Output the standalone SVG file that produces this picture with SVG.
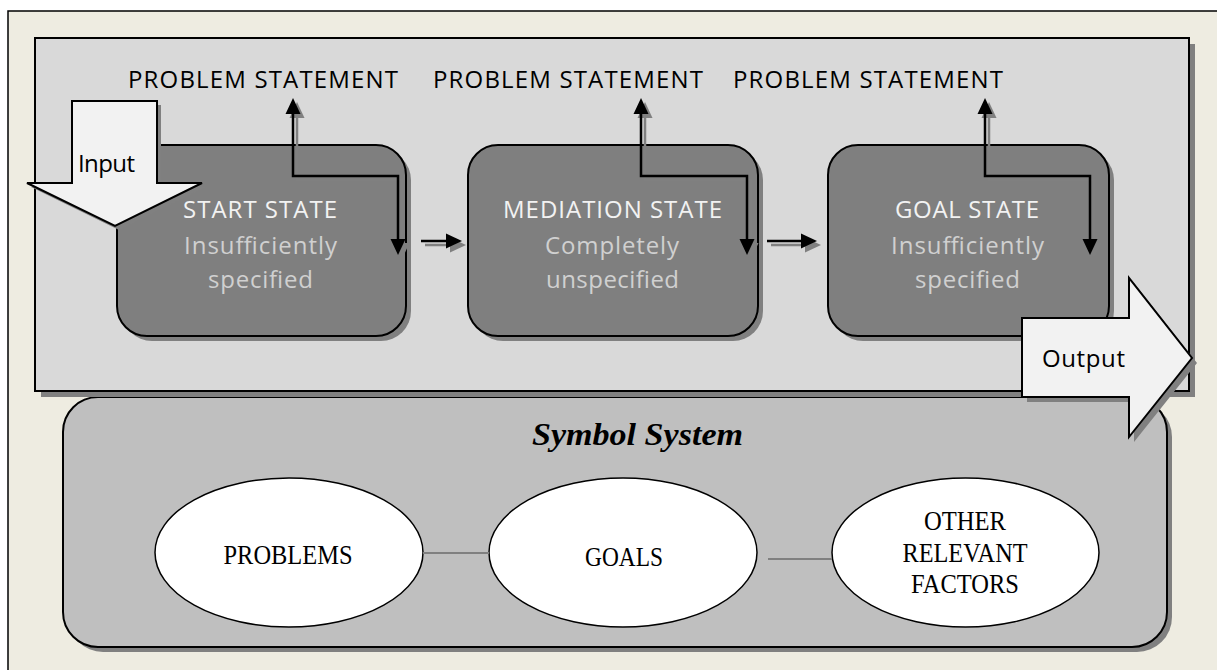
<svg xmlns="http://www.w3.org/2000/svg" width="1217" height="670" viewBox="0 0 1217 670">
  <style>
    .frame { fill: #EEECE1; stroke: #000; stroke-width: 1.5; }
    .panel { fill: #D9D9D9; stroke: #000; stroke-width: 2; }
    .state { fill: #7F7F7F; stroke: #000; stroke-width: 2; }
    .symbols { fill: #BFBFBF; stroke: #000; stroke-width: 2; }
    .shadow { fill: #808080; stroke: none; }
    .bigarrow { fill: #F2F2F2; stroke: #000; stroke-width: 2; stroke-linejoin: miter; }
    .oval { fill: #FFF; stroke: #000; stroke-width: 1.5; }
    .link { fill: none; stroke: #000; stroke-width: 2.5; }
    .link-shadow { fill: none; stroke: #808080; stroke-width: 2.5; }
    .tie { stroke: #808080; stroke-width: 2; }
    .sans { font-family: "Open Sans", "Liberation Sans", sans-serif; font-size: 24px; }
    .label { fill: #000; }
    .title { fill: #F2F2F2; }
    .sub { fill: #D0D0D0; }
    .serif { font-family: "Liberation Serif", "DejaVu Serif", serif; font-size: 27px; fill: #000; text-anchor: middle; }
    .heading { font-family: "Liberation Serif", "DejaVu Serif", serif; font-size: 32px; font-weight: bold; font-style: italic; fill: #000; }
  </style>
  <defs>
    <marker id="head" markerUnits="userSpaceOnUse" markerWidth="16" markerHeight="16" viewBox="0 0 16 16" refX="12" refY="8" orient="auto-start-reverse">
      <path d="M0,0.5 L16,8 L0,15.5 z" fill="#000"/>
    </marker>
    <marker id="head-shadow" markerUnits="userSpaceOnUse" markerWidth="16" markerHeight="16" viewBox="0 0 16 16" refX="12" refY="8" orient="auto-start-reverse">
      <path d="M0,0.5 L16,8 L0,15.5 z" fill="#808080"/>
    </marker>
  </defs>

  <!-- page background -->
  <rect class="frame" x="8" y="11" width="1220" height="670"/>

  <!-- symbol system container (sits behind the process panel) -->
  <g id="symbol-system">
    <rect class="shadow" x="68" y="402" width="1104" height="250" rx="35"/>
    <rect class="symbols" x="63" y="397" width="1104" height="250" rx="35"/>
  </g>

  <!-- process panel -->
  <g id="process-panel">
    <rect class="shadow" x="41" y="44" width="1154" height="353"/>
    <rect class="panel" x="35" y="38" width="1154" height="353"/>
  </g>

  <text class="heading" x="532" y="445" textLength="211" lengthAdjust="spacingAndGlyphs">Symbol System</text>

  <!-- problem statement labels -->
  <g id="statement-start">
    <text class="sans label" x="128" y="88" textLength="270">PROBLEM STATEMENT</text>
  </g>
  <g id="statement-mediation">
    <text class="sans label" x="433" y="88" textLength="270">PROBLEM STATEMENT</text>
  </g>
  <g id="statement-goal">
    <text class="sans label" x="733" y="88" textLength="270">PROBLEM STATEMENT</text>
  </g>

  <!-- state nodes -->
  <g id="start-state">
    <rect class="shadow" x="122" y="150" width="289" height="191" rx="30"/>
    <rect class="state" x="117" y="145" width="289" height="191" rx="30"/>
    <text class="sans title" x="183" y="218" textLength="154">START STATE</text>
    <text class="sans sub" x="184" y="254" textLength="153">Insufficiently</text>
    <text class="sans sub" x="208" y="288" textLength="105">specified</text>
  </g>
  <g id="mediation-state">
    <rect class="shadow" x="473" y="150" width="290" height="191" rx="30"/>
    <rect class="state" x="468" y="145" width="290" height="191" rx="30"/>
    <text class="sans title" x="503" y="218" textLength="219">MEDIATION STATE</text>
    <text class="sans sub" x="545" y="254" textLength="134">Completely</text>
    <text class="sans sub" x="546" y="288" textLength="133">unspecified</text>
  </g>
  <g id="goal-state">
    <rect class="shadow" x="833" y="150" width="281" height="191" rx="30"/>
    <rect class="state" x="828" y="145" width="281" height="191" rx="30"/>
    <text class="sans title" x="895" y="218" textLength="144">GOAL STATE</text>
    <text class="sans sub" x="891" y="254" textLength="153">Insufficiently</text>
    <text class="sans sub" x="915" y="288" textLength="105">specified</text>
  </g>

  <!-- symbol system elements -->
  <g id="problems">
    <ellipse class="oval" cx="289" cy="552.5" rx="134" ry="74.5"/>
    <text class="serif" x="288" y="564" textLength="129" lengthAdjust="spacingAndGlyphs">PROBLEMS</text>
  </g>
  <g id="goals">
    <ellipse class="oval" cx="623" cy="552.5" rx="134" ry="74.5"/>
    <text class="serif" x="624" y="566" textLength="78" lengthAdjust="spacingAndGlyphs">GOALS</text>
  </g>
  <g id="other-factors">
    <ellipse class="oval" cx="965.5" cy="552.5" rx="133.5" ry="74.5"/>
    <text class="serif" x="965" y="530" textLength="82" lengthAdjust="spacingAndGlyphs">OTHER</text>
    <text class="serif" x="965" y="562" textLength="125" lengthAdjust="spacingAndGlyphs">RELEVANT</text>
    <text class="serif" x="965" y="593" textLength="108" lengthAdjust="spacingAndGlyphs">FACTORS</text>
  </g>

  <!-- connectors -->
  <g id="connectors">
    <line class="tie" x1="423" y1="553" x2="489" y2="553"/>
    <line class="tie" x1="768" y1="559" x2="832" y2="559"/>

    <g transform="translate(4,4)">
      <path class="link-shadow" d="M293,102 V176 H398 V251" marker-start="url(#head-shadow)" marker-end="url(#head-shadow)"/>
      <path class="link-shadow" d="M641,102 V176 H747 V251" marker-start="url(#head-shadow)" marker-end="url(#head-shadow)"/>
      <path class="link-shadow" d="M985,102 V176 H1090 V251" marker-start="url(#head-shadow)" marker-end="url(#head-shadow)"/>
      <path class="link-shadow" d="M421,241 H458" marker-end="url(#head-shadow)"/>
      <path class="link-shadow" d="M767,241 H813" marker-end="url(#head-shadow)"/>
    </g>
    <path class="link" d="M293,102 V176 H398 V251" marker-start="url(#head)" marker-end="url(#head)"/>
    <path class="link" d="M641,102 V176 H747 V251" marker-start="url(#head)" marker-end="url(#head)"/>
    <path class="link" d="M985,102 V176 H1090 V251" marker-start="url(#head)" marker-end="url(#head)"/>
    <path class="link" d="M421,241 H458" marker-end="url(#head)"/>
    <path class="link" d="M767,241 H813" marker-end="url(#head)"/>
  </g>

  <!-- input block arrow -->
  <g id="input">
    <polygon class="shadow" points="76,105 161,105 161,187 206,187 119,230 31,187 76,187"/>
    <polygon class="bigarrow" points="72,101 157,101 157,183 202,183 115,226 27,183 72,183"/>
    <text class="sans label" x="78" y="172" textLength="57">Input</text>
  </g>

  <!-- output block arrow -->
  <g id="output">
    <polygon class="shadow" points="1027,323 1134,323 1134,283 1197,363 1134,442 1134,402 1027,402"/>
    <polygon class="bigarrow" points="1022,318 1129,318 1129,278 1192,358 1129,437 1129,397 1022,397"/>
    <text class="sans label" x="1042" y="367" textLength="83">Output</text>
  </g>
</svg>
